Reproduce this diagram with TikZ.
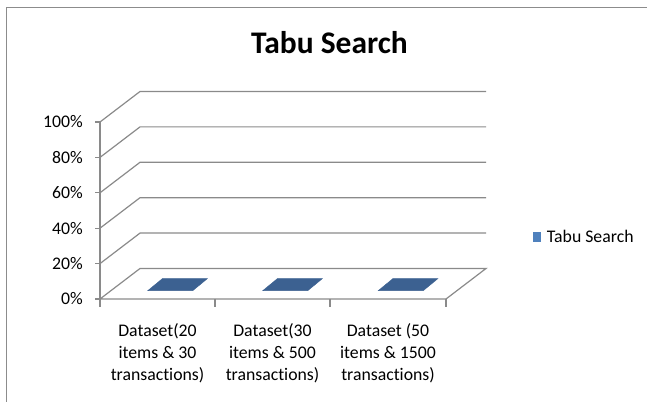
\documentclass[tikz,border=0pt]{standalone}
\usepackage{fontspec}
\setmainfont{Carlito}[Ligatures={NoCommon,NoContextual},Contextuals={NoAlternate}]
\begin{document}
\begin{tikzpicture}[x=0.75pt,y=-0.75pt,
  grid/.style={draw=gridgray,line width=0.9pt},
  frame/.style={draw=framegray,line width=1.3pt},
  bartop/.style={fill=barblue,draw=barblue,line width=0.3pt},
  lbl/.style={inner sep=0pt,font=\fontsize{13.3}{16.5}\selectfont},
  catlbl/.style={lbl,align=center,anchor=north}]
\definecolor{gridgray}{HTML}{8A8A8A}
\definecolor{framegray}{HTML}{8C8C8C}
\definecolor{barblue}{HTML}{3C6191}
\definecolor{legblue}{HTML}{4F81BD}
\useasboundingbox (0,0) rectangle (647,402);
% outer frame (continues off the picture to the right and bottom)
\draw[frame] (6.5,402) -- (6.5,7.5) -- (647,7.5);
% title
\node[inner sep=0pt,anchor=base,font=\fontsize{23.6}{28}\selectfont\bfseries] (title) at (329.5,53.3) {Tabu Search};
% wall gridlines
\foreach \i/\y in {1/263.6,2/228.2,3/192.8,4/157.4,5/122} {
  \coordinate (f\i) at (100,\y);
  \coordinate (b\i) at (140,\y-30.5);
  \coordinate (r\i) at (486,\y-30.5);
  \draw[grid] (f\i) -- (b\i) -- (r\i);
}
% floor
\coordinate (fl) at (100,299);
\coordinate (fr) at (446,299);
\coordinate (bl) at (140,268.5);
\coordinate (br) at (486,268.5);
\draw[grid] (fl) -- (bl) -- (br) -- (fr) -- cycle;
% value axis
\coordinate (atop) at (100,122);
\draw[grid] (fl) -- (atop);
\foreach \y/\t in {299/0\%,263.6/20\%,228.2/40\%,192.8/60\%,157.4/80\%,122/100\%} {
  \draw[grid] (95,\y) -- (100,\y);
  \node[lbl,anchor=east] at (83,\y) {\t};
}
% category ticks
\foreach \x in {100,215,330,446} {
  \draw[grid] (\x,299) -- (\x,307);
}
% bars (value 0: flat tops on the floor)
\foreach \c/\n in {157.5/1,272.5/2,388/3} {
  \filldraw[bartop] (\c-9.8,290.7) -- (\c+35.2,290.7) -- (\c+49.8,278.7) -- (\c+4.8,278.7) -- cycle;
}
% category labels
\node[catlbl] (c1) at (157.5,322.8) {Dataset(20\\items \& 30\\transactions)};
\node[catlbl] (c2) at (272.5,322.8) {Dataset(30\\items \& 500\\transactions)};
\node[catlbl] (c3) at (388,322.8) {Dataset (50\\items \& 1500\\transactions)};
% legend
\fill[legblue] (532.7,232.3) rectangle (541.2,241.8);
\node[lbl,anchor=west] (leg) at (546.7,236.5) {Tabu Search};
\end{tikzpicture}
\end{document}
